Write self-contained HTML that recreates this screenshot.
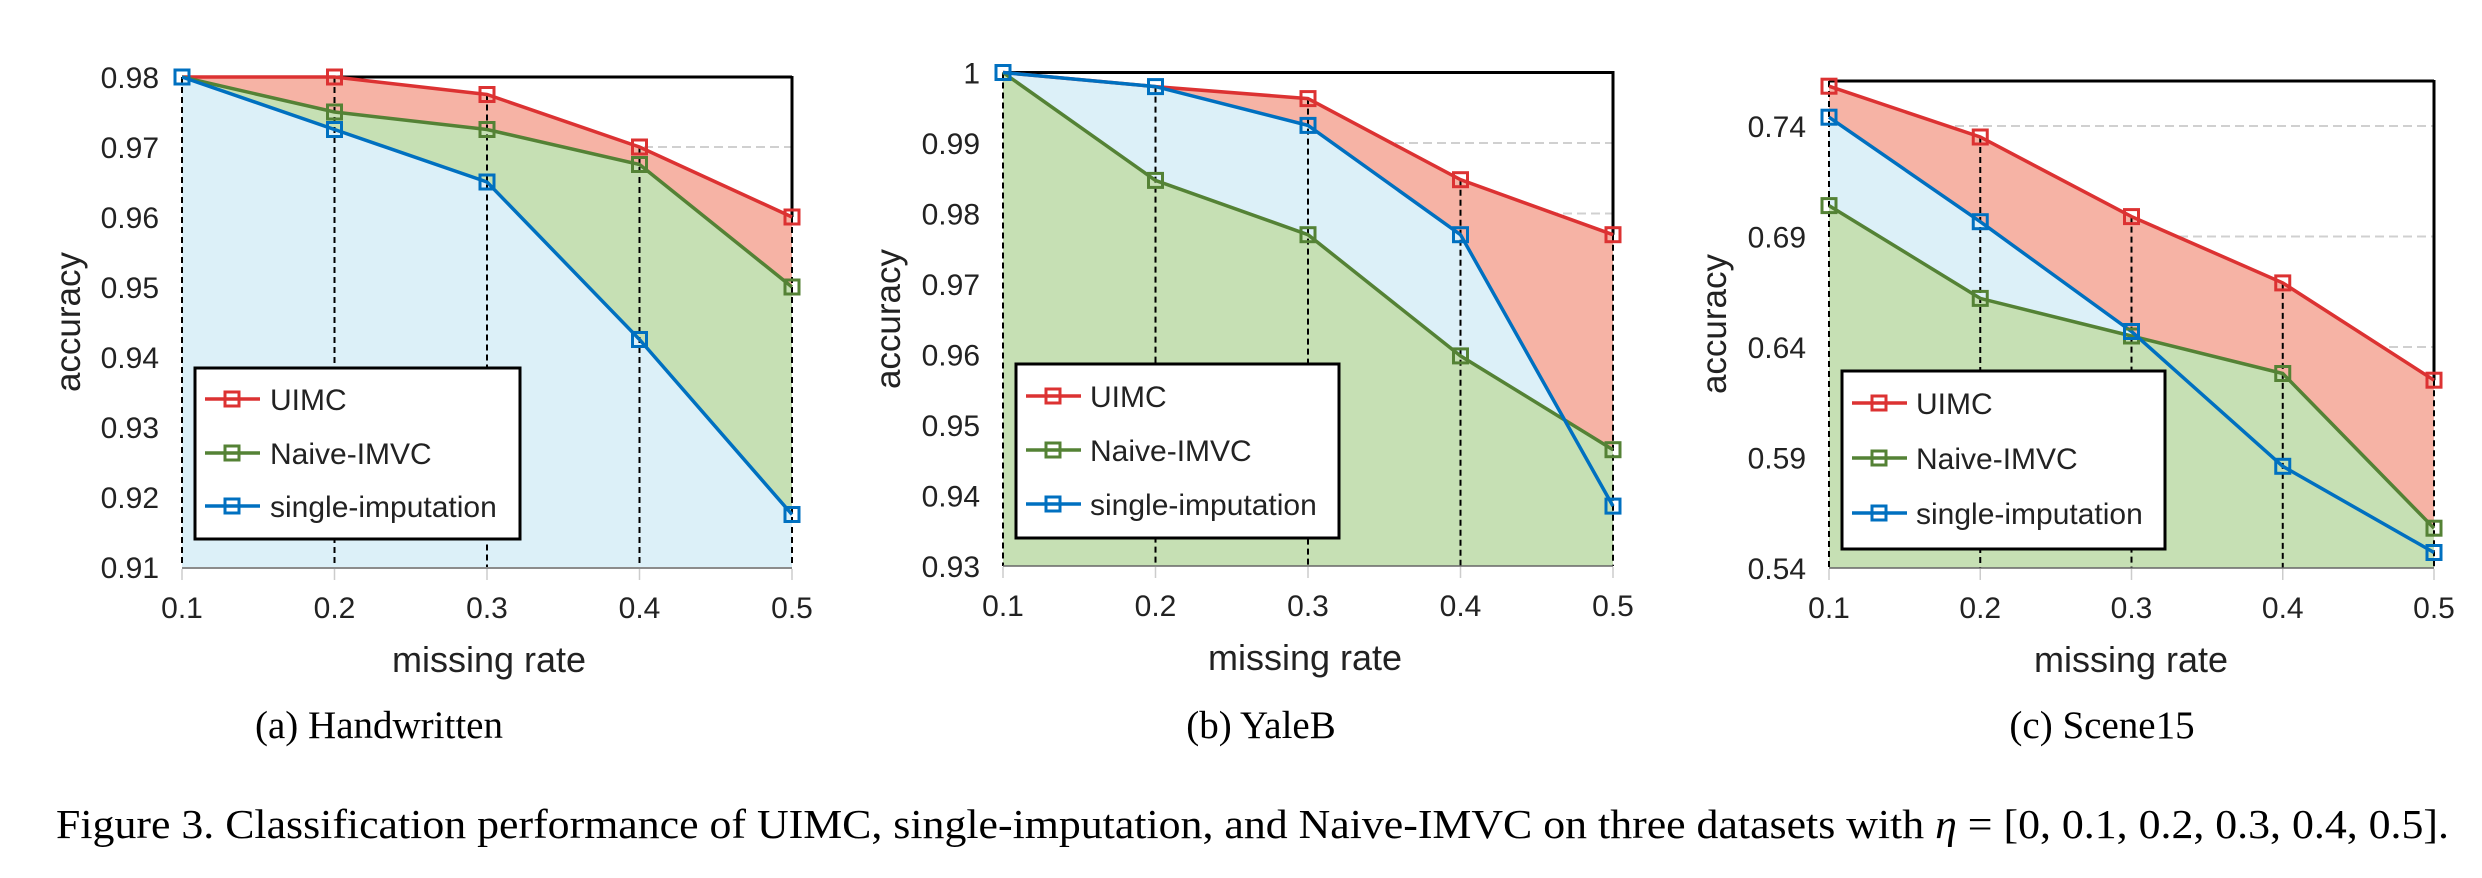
<!DOCTYPE html>
<html><head><meta charset="utf-8"><style>
html,body{margin:0;padding:0;background:#fff;}
svg{display:block;}
.t{font-family:"Liberation Sans",Arial,sans-serif;fill:#222;}
.s{font-family:"Liberation Serif","Times New Roman",serif;fill:#000;}
</style></head><body>
<svg width="2482" height="878" viewBox="0 0 2482 878" xmlns="http://www.w3.org/2000/svg">
<defs>
<g id="mk"><rect x="-7" y="-7" width="14" height="14" fill="none" stroke-width="3"/></g>
</defs>

<!-- ===== Chart 1 ===== -->
<g stroke="#d0d0d0" stroke-width="2" stroke-dasharray="9,5">
<line x1="182" y1="147" x2="792" y2="147"/><line x1="182" y1="217" x2="792" y2="217"/><line x1="182" y1="287" x2="792" y2="287"/><line x1="182" y1="357" x2="792" y2="357"/><line x1="182" y1="427" x2="792" y2="427"/><line x1="182" y1="497" x2="792" y2="497"/>
</g>
<polygon fill="#f6b3a5" points="182,77 334.5,77 487,94.5 639.5,147 792,217 792,567 182,567"/>
<polygon fill="#c6e0b4" points="182,77 334.5,112 487,129.5 639.5,164.5 792,287 792,567 182,567"/>
<polygon fill="#dcf0f8" points="182,77 334.5,129.5 487,182 639.5,339.5 792,514.5 792,567 182,567"/>
<g stroke="#000" stroke-width="2" stroke-dasharray="6,4">
<line x1="182" y1="77" x2="182" y2="567"/><line x1="334.5" y1="77" x2="334.5" y2="567"/><line x1="487" y1="94.5" x2="487" y2="567"/><line x1="639.5" y1="147" x2="639.5" y2="567"/><line x1="792" y1="217" x2="792" y2="567"/>
</g>
<line x1="182" y1="77" x2="792" y2="77" stroke="#000" stroke-width="3"/>
<line x1="792" y1="76" x2="792" y2="217" stroke="#000" stroke-width="3"/>
<line x1="182" y1="568" x2="792" y2="568" stroke="#666" stroke-width="1.5"/>
<g stroke="#ccc" stroke-width="1.5"><line x1="182" y1="569" x2="182" y2="580"/><line x1="334.5" y1="569" x2="334.5" y2="580"/><line x1="487" y1="569" x2="487" y2="580"/><line x1="639.5" y1="569" x2="639.5" y2="580"/><line x1="792" y1="569" x2="792" y2="580"/></g>
<polyline fill="none" stroke="#dc3232" stroke-width="3.5" points="182,77 334.5,77 487,94.5 639.5,147 792,217"/>
<polyline fill="none" stroke="#548235" stroke-width="3.5" points="182,77 334.5,112 487,129.5 639.5,164.5 792,287"/>
<polyline fill="none" stroke="#0070c0" stroke-width="3.5" points="182,77 334.5,129.5 487,182 639.5,339.5 792,514.5"/>
<g stroke="#dc3232"><use href="#mk" x="334.5" y="77"/><use href="#mk" x="487" y="94.5"/><use href="#mk" x="639.5" y="147"/><use href="#mk" x="792" y="217"/></g>
<g stroke="#548235"><use href="#mk" x="334.5" y="112"/><use href="#mk" x="487" y="129.5"/><use href="#mk" x="639.5" y="164.5"/><use href="#mk" x="792" y="287"/></g>
<g stroke="#0070c0"><use href="#mk" x="182" y="77"/><use href="#mk" x="334.5" y="129.5"/><use href="#mk" x="487" y="182"/><use href="#mk" x="639.5" y="339.5"/><use href="#mk" x="792" y="514.5"/></g>
<g class="t" font-size="30" text-anchor="end">
<text x="159" y="88">0.98</text><text x="159" y="158">0.97</text><text x="159" y="228">0.96</text><text x="159" y="298">0.95</text><text x="159" y="368">0.94</text><text x="159" y="438">0.93</text><text x="159" y="508">0.92</text><text x="159" y="578">0.91</text>
</g>
<g class="t" font-size="30" text-anchor="middle">
<text x="182" y="618">0.1</text><text x="334.5" y="618">0.2</text><text x="487" y="618">0.3</text><text x="639.5" y="618">0.4</text><text x="792" y="618">0.5</text>
</g>
<text class="t" font-size="36" text-anchor="middle" x="489" y="672">missing rate</text>
<text class="t" font-size="35" text-anchor="middle" transform="translate(80,322) rotate(-90)">accuracy</text>
<rect x="195" y="368" width="325" height="171" fill="#fff" stroke="#000" stroke-width="3"/>
<g class="t" font-size="30">
<line x1="205" y1="399" x2="260" y2="399" stroke="#dc3232" stroke-width="3.5"/><use href="#mk" x="232" y="399" stroke="#dc3232"/><text x="270" y="410">UIMC</text>
<line x1="205" y1="453" x2="260" y2="453" stroke="#548235" stroke-width="3.5"/><use href="#mk" x="232" y="453" stroke="#548235"/><text x="270" y="464">Naive-IMVC</text>
<line x1="205" y1="506" x2="260" y2="506" stroke="#0070c0" stroke-width="3.5"/><use href="#mk" x="232" y="506" stroke="#0070c0"/><text x="270" y="517">single-imputation</text>
</g>
<text class="s" font-size="39" text-anchor="middle" x="379" y="738">(a) Handwritten</text>

<!-- ===== Chart 2 ===== -->
<g stroke="#d0d0d0" stroke-width="2" stroke-dasharray="9,5">
<line x1="1003" y1="143" x2="1613" y2="143"/><line x1="1003" y1="213.5" x2="1613" y2="213.5"/><line x1="1003" y1="284" x2="1613" y2="284"/><line x1="1003" y1="354.5" x2="1613" y2="354.5"/><line x1="1003" y1="425" x2="1613" y2="425"/><line x1="1003" y1="495.5" x2="1613" y2="495.5"/>
</g>
<polygon fill="#f6b3a5" points="1003,72.5 1155.5,86.6 1308,98.6 1460.5,179.7 1613,234.7 1613,566 1003,566"/>
<polygon fill="#dcf0f8" points="1003,72.5 1155.5,86.6 1308,125.4 1460.5,234.7 1613,506.1 1613,566 1003,566"/>
<polygon fill="#c6e0b4" points="1003,72.5 1155.5,180.4 1308,234.7 1460.5,355.9 1613,449.7 1613,566 1003,566"/>
<g stroke="#000" stroke-width="2" stroke-dasharray="6,4">
<line x1="1003" y1="72.5" x2="1003" y2="566"/><line x1="1155.5" y1="86.6" x2="1155.5" y2="566"/><line x1="1308" y1="98.6" x2="1308" y2="566"/><line x1="1460.5" y1="179.7" x2="1460.5" y2="566"/><line x1="1613" y1="234.7" x2="1613" y2="566"/>
</g>
<line x1="1003" y1="72.5" x2="1613" y2="72.5" stroke="#000" stroke-width="3"/>
<line x1="1613" y1="71" x2="1613" y2="234.7" stroke="#000" stroke-width="3"/>
<line x1="1003" y1="566" x2="1613" y2="566" stroke="#666" stroke-width="1.5"/>
<g stroke="#ccc" stroke-width="1.5"><line x1="1003" y1="567" x2="1003" y2="578"/><line x1="1155.5" y1="567" x2="1155.5" y2="578"/><line x1="1308" y1="567" x2="1308" y2="578"/><line x1="1460.5" y1="567" x2="1460.5" y2="578"/><line x1="1613" y1="567" x2="1613" y2="578"/></g>
<polyline fill="none" stroke="#dc3232" stroke-width="3.5" points="1003,72.5 1155.5,86.6 1308,98.6 1460.5,179.7 1613,234.7"/>
<polyline fill="none" stroke="#548235" stroke-width="3.5" points="1003,72.5 1155.5,180.4 1308,234.7 1460.5,355.9 1613,449.7"/>
<polyline fill="none" stroke="#0070c0" stroke-width="3.5" points="1003,72.5 1155.5,86.6 1308,125.4 1460.5,234.7 1613,506.1"/>
<g stroke="#dc3232"><use href="#mk" x="1308" y="98.6"/><use href="#mk" x="1460.5" y="179.7"/><use href="#mk" x="1613" y="234.7"/></g>
<g stroke="#548235"><use href="#mk" x="1155.5" y="180.4"/><use href="#mk" x="1308" y="234.7"/><use href="#mk" x="1460.5" y="355.9"/><use href="#mk" x="1613" y="449.7"/></g>
<g stroke="#0070c0"><use href="#mk" x="1003" y="72.5"/><use href="#mk" x="1155.5" y="86.6"/><use href="#mk" x="1308" y="125.4"/><use href="#mk" x="1460.5" y="234.7"/><use href="#mk" x="1613" y="506.1"/></g>
<g class="t" font-size="30" text-anchor="end">
<text x="980" y="83.5">1</text><text x="980" y="154">0.99</text><text x="980" y="224.5">0.98</text><text x="980" y="295">0.97</text><text x="980" y="365.5">0.96</text><text x="980" y="436">0.95</text><text x="980" y="506.5">0.94</text><text x="980" y="577">0.93</text>
</g>
<g class="t" font-size="30" text-anchor="middle">
<text x="1003" y="616">0.1</text><text x="1155.5" y="616">0.2</text><text x="1308" y="616">0.3</text><text x="1460.5" y="616">0.4</text><text x="1613" y="616">0.5</text>
</g>
<text class="t" font-size="36" text-anchor="middle" x="1305" y="670">missing rate</text>
<text class="t" font-size="35" text-anchor="middle" transform="translate(900,319) rotate(-90)">accuracy</text>
<rect x="1016" y="364" width="323" height="174" fill="#fff" stroke="#000" stroke-width="3"/>
<g class="t" font-size="30">
<line x1="1026" y1="396" x2="1081" y2="396" stroke="#dc3232" stroke-width="3.5"/><use href="#mk" x="1053" y="396" stroke="#dc3232"/><text x="1090" y="407">UIMC</text>
<line x1="1026" y1="450" x2="1081" y2="450" stroke="#548235" stroke-width="3.5"/><use href="#mk" x="1053" y="450" stroke="#548235"/><text x="1090" y="461">Naive-IMVC</text>
<line x1="1026" y1="504" x2="1081" y2="504" stroke="#0070c0" stroke-width="3.5"/><use href="#mk" x="1053" y="504" stroke="#0070c0"/><text x="1090" y="515">single-imputation</text>
</g>
<text class="s" font-size="39" text-anchor="middle" x="1261" y="738">(b) YaleB</text>

<!-- ===== Chart 3 ===== -->
<g stroke="#d0d0d0" stroke-width="2" stroke-dasharray="9,5">
<line x1="1829" y1="126" x2="2434" y2="126"/><line x1="1829" y1="236.5" x2="2434" y2="236.5"/><line x1="1829" y1="347" x2="2434" y2="347"/><line x1="1829" y1="457.5" x2="2434" y2="457.5"/>
</g>
<polygon fill="#f6b3a5" points="1829,86.2 1980.25,137 2131.5,216.6 2282.75,282.9 2434,380.2 2434,568 1829,568"/>
<polygon fill="#dcf0f8" points="1829,117.2 1980.25,221.7 2131.5,331.5 2282.75,466.3 2434,552.5 2434,568 1829,568"/>
<polygon fill="#c6e0b4" points="1829,205.6 1980.25,298.4 2131.5,336 2282.75,373.5 2434,528.2 2434,568 1829,568"/>
<g stroke="#000" stroke-width="2" stroke-dasharray="6,4">
<line x1="1829" y1="81" x2="1829" y2="568"/><line x1="1980.25" y1="137" x2="1980.25" y2="568"/><line x1="2131.5" y1="216.6" x2="2131.5" y2="568"/><line x1="2282.75" y1="282.9" x2="2282.75" y2="568"/><line x1="2434" y1="380.2" x2="2434" y2="568"/>
</g>
<line x1="1829" y1="81" x2="2434" y2="81" stroke="#000" stroke-width="3"/>
<line x1="2434" y1="80" x2="2434" y2="380.2" stroke="#000" stroke-width="3"/>
<line x1="1829" y1="568" x2="2434" y2="568" stroke="#666" stroke-width="1.5"/>
<g stroke="#ccc" stroke-width="1.5"><line x1="1829" y1="569" x2="1829" y2="580"/><line x1="1980.25" y1="569" x2="1980.25" y2="580"/><line x1="2131.5" y1="569" x2="2131.5" y2="580"/><line x1="2282.75" y1="569" x2="2282.75" y2="580"/><line x1="2434" y1="569" x2="2434" y2="580"/></g>
<polyline fill="none" stroke="#dc3232" stroke-width="3.5" points="1829,86.2 1980.25,137 2131.5,216.6 2282.75,282.9 2434,380.2"/>
<polyline fill="none" stroke="#548235" stroke-width="3.5" points="1829,205.6 1980.25,298.4 2131.5,336 2282.75,373.5 2434,528.2"/>
<polyline fill="none" stroke="#0070c0" stroke-width="3.5" points="1829,117.2 1980.25,221.7 2131.5,331.5 2282.75,466.3 2434,552.5"/>
<g stroke="#dc3232"><use href="#mk" x="1829" y="86.2"/><use href="#mk" x="1980.25" y="137"/><use href="#mk" x="2131.5" y="216.6"/><use href="#mk" x="2282.75" y="282.9"/><use href="#mk" x="2434" y="380.2"/></g>
<g stroke="#548235"><use href="#mk" x="1829" y="205.6"/><use href="#mk" x="1980.25" y="298.4"/><use href="#mk" x="2131.5" y="336"/><use href="#mk" x="2282.75" y="373.5"/><use href="#mk" x="2434" y="528.2"/></g>
<g stroke="#0070c0"><use href="#mk" x="1829" y="117.2"/><use href="#mk" x="1980.25" y="221.7"/><use href="#mk" x="2131.5" y="331.5"/><use href="#mk" x="2282.75" y="466.3"/><use href="#mk" x="2434" y="552.5"/></g>
<g class="t" font-size="30" text-anchor="end">
<text x="1806" y="137">0.74</text><text x="1806" y="247.5">0.69</text><text x="1806" y="358">0.64</text><text x="1806" y="468.5">0.59</text><text x="1806" y="579">0.54</text>
</g>
<g class="t" font-size="30" text-anchor="middle">
<text x="1829" y="618">0.1</text><text x="1980.25" y="618">0.2</text><text x="2131.5" y="618">0.3</text><text x="2282.75" y="618">0.4</text><text x="2434" y="618">0.5</text>
</g>
<text class="t" font-size="36" text-anchor="middle" x="2131" y="672">missing rate</text>
<text class="t" font-size="35" text-anchor="middle" transform="translate(1726,324) rotate(-90)">accuracy</text>
<rect x="1842" y="371" width="323" height="178" fill="#fff" stroke="#000" stroke-width="3"/>
<g class="t" font-size="30">
<line x1="1852" y1="403" x2="1907" y2="403" stroke="#dc3232" stroke-width="3.5"/><use href="#mk" x="1879" y="403" stroke="#dc3232"/><text x="1916" y="414">UIMC</text>
<line x1="1852" y1="458" x2="1907" y2="458" stroke="#548235" stroke-width="3.5"/><use href="#mk" x="1879" y="458" stroke="#548235"/><text x="1916" y="469">Naive-IMVC</text>
<line x1="1852" y1="513" x2="1907" y2="513" stroke="#0070c0" stroke-width="3.5"/><use href="#mk" x="1879" y="513" stroke="#0070c0"/><text x="1916" y="524">single-imputation</text>
</g>
<text class="s" font-size="39" text-anchor="middle" x="2102" y="738">(c) Scene15</text>

<!-- caption -->
<text class="s" font-size="41" x="56" y="838" textLength="2393" lengthAdjust="spacingAndGlyphs">Figure 3. Classification performance of UIMC, single-imputation, and Naive-IMVC on three datasets with <tspan font-style="italic">η</tspan> = [0, 0.1, 0.2, 0.3, 0.4, 0.5].</text>
</svg>
</body></html>
